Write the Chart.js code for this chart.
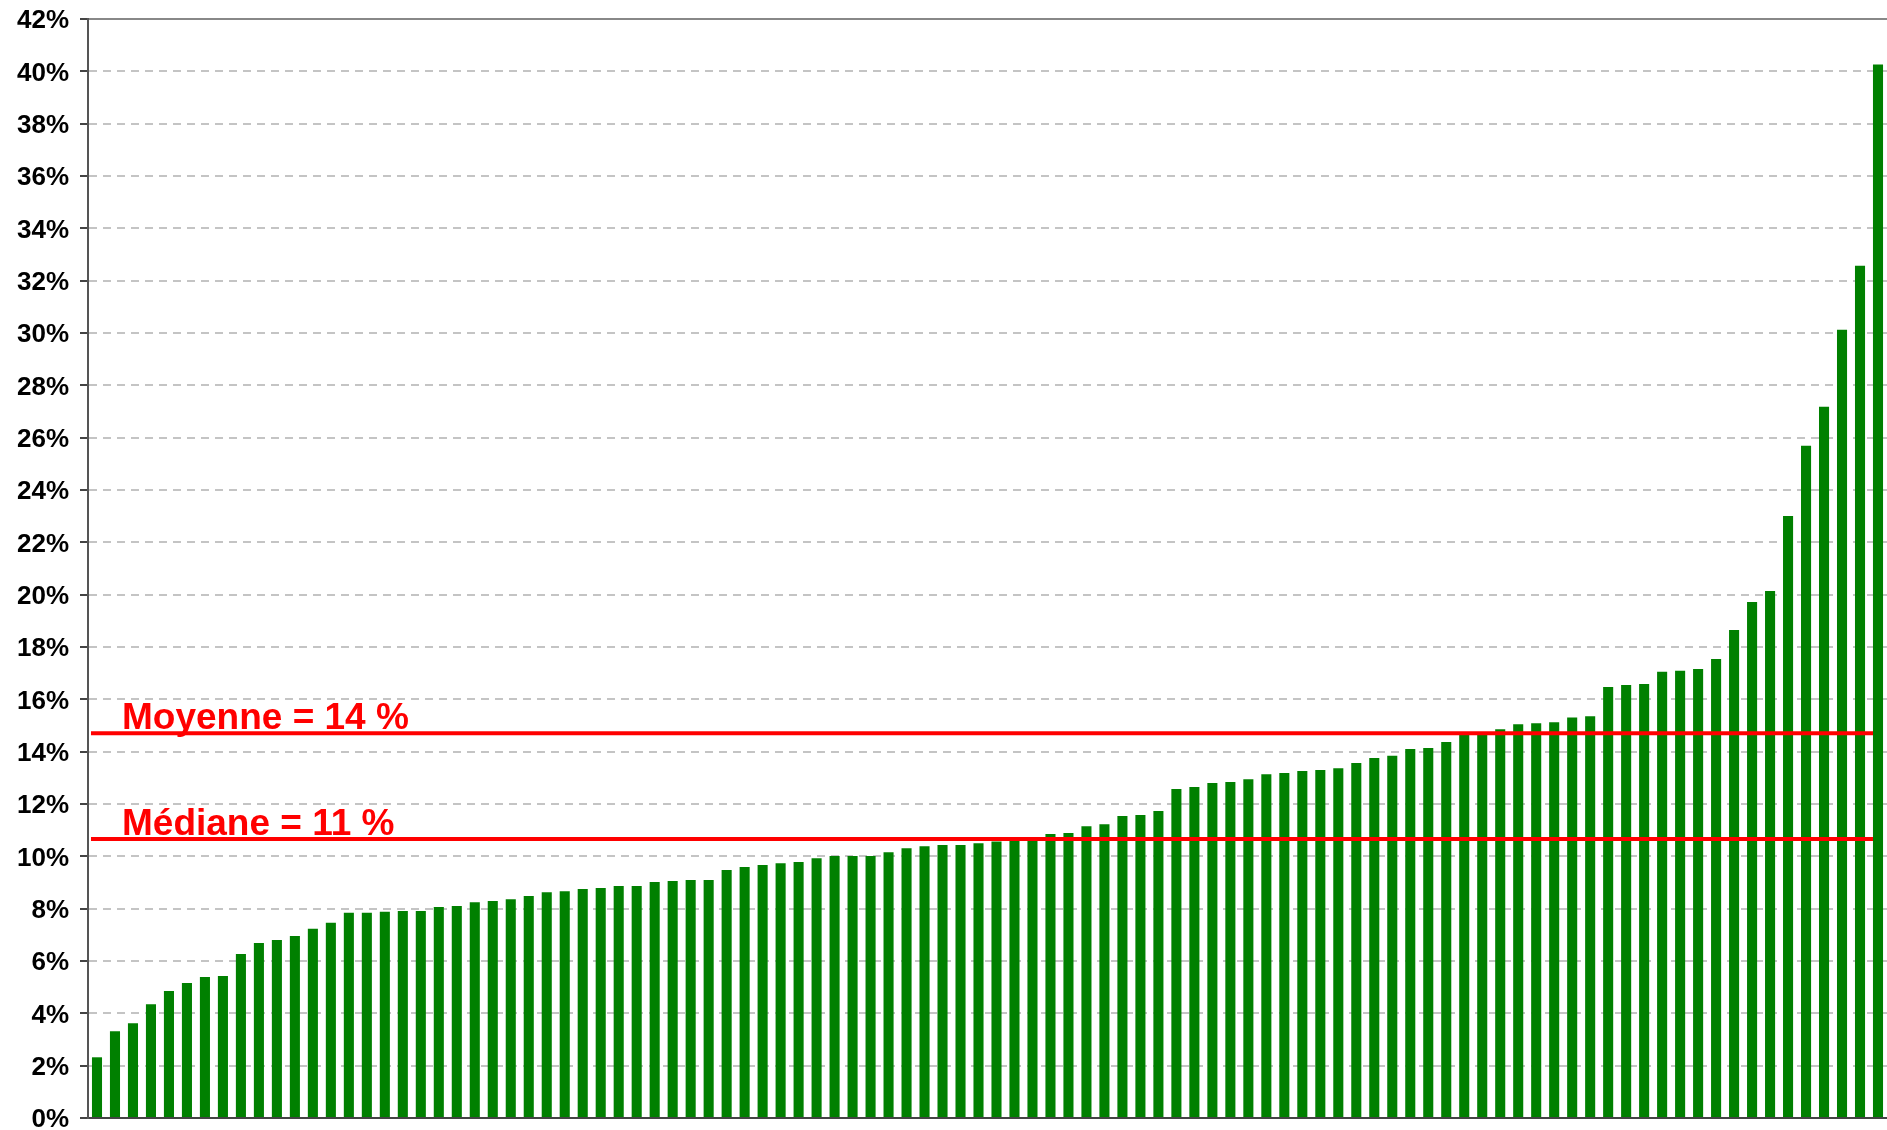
<!DOCTYPE html>
<html>
<head>
<meta charset="utf-8">
<script src="https://cdn.jsdelivr.net/npm/chart.js@4/dist/chart.umd.min.js"></script>
<style>
  html, body { margin: 0; padding: 0; background: #fff; }
  #wrap { width: 1887px; height: 1130px; position: relative; }
</style>
</head>
<body>
<div id="wrap"><canvas id="rateChart"></canvas></div>
<script>
    // taux par entité, triés du plus bas au plus haut (en %)
    const values = [
      2.32, 3.32, 3.62, 4.35, 4.85, 5.16, 5.39, 5.43, 6.27, 6.69,
      6.80, 6.96, 7.23, 7.46, 7.84, 7.84, 7.88, 7.91, 7.91, 8.06,
      8.10, 8.25, 8.29, 8.36, 8.48, 8.63, 8.67, 8.75, 8.79, 8.87,
      8.87, 9.02, 9.06, 9.10, 9.10, 9.48, 9.59, 9.67, 9.74, 9.78,
      9.93, 10.01, 10.01, 10.01, 10.16, 10.31, 10.39, 10.43, 10.43, 10.50,
      10.57, 10.64, 10.65, 10.85, 10.89, 11.15, 11.23, 11.54, 11.58, 11.73,
      12.57, 12.65, 12.80, 12.84, 12.95, 13.14, 13.18, 13.26, 13.30, 13.37,
      13.57, 13.76, 13.84, 14.10, 14.14, 14.37, 14.66, 14.70, 14.86, 15.05,
      15.09, 15.12, 15.31, 15.35, 16.47, 16.55, 16.59, 17.05, 17.09, 17.16,
      17.54, 18.65, 19.72, 20.14, 23.01, 25.69, 27.18, 30.12, 32.57, 40.26
    ];
    const categories = values.map((_, i) => String(i + 1));

    const yMin = 0;
    const yMax = 42;
    const yStep = 2;

    // lignes de référence
    const refValues = [14.7, 10.66];
    const refLabels = ['Moyenne = 14 %', 'Médiane = 11 %'];

    const FONT = '"Liberation Sans", Arial, Helvetica, sans-serif';

    const refLines = {
      id: 'refLines',
      afterDatasetsDraw(chart) {
        const { ctx, scales: { x, y } } = chart;
        const x0 = x.getPixelForValue(0) - 6;
        const x1 = x.getPixelForValue(values.length - 1) - 5;
        ctx.save();
        refValues.forEach((v, i) => {
          const py = y.getPixelForValue(v);
          ctx.strokeStyle = '#ff0000';
          ctx.lineWidth = 4;
          ctx.beginPath();
          ctx.moveTo(x0, py);
          ctx.lineTo(x1, py);
          ctx.stroke();

          ctx.fillStyle = '#ff0000';
          ctx.font = 'bold 37px ' + FONT;
          ctx.textAlign = 'left';
          ctx.textBaseline = 'alphabetic';
          ctx.fillText(refLabels[i], x0 + 31, py - 4);
        });
        ctx.restore();
      }
    };

    const isTop = c => c.type === 'tick' && c.tick && c.tick.value === yMax;

    const ctx = document.getElementById('rateChart').getContext('2d');
    const chart = new Chart(ctx, {
      type: 'bar',
      data: {
        labels: categories,
        datasets: [
          {
            data: values,
            backgroundColor: '#008000',
            borderWidth: 0,
            barPercentage: 0.56,
            categoryPercentage: 1.0
          }
        ]
      },
      options: {
        responsive: true,
        maintainAspectRatio: false,
        animation: false,
        layout: { padding: { top: 19, bottom: 12, left: 0, right: 0 } },
        scales: {
          x: {
            afterFit: s => { s.height = 0; },
            ticks: { display: false },
            grid: { display: false, drawTicks: false },
            border: { display: true, color: '#444', width: 2 }
          },
          y: {
            min: yMin,
            max: yMax,
            afterFit: s => {
              s.width = 88;
              s.paddingTop = 0;
              s.paddingBottom = 0;
            },
            ticks: {
              stepSize: yStep,
              padding: 11,
              labelOffset: 2,
              color: '#000',
              font: { family: FONT, size: 26, weight: 'bold' },
              callback: v => v + '%'
            },
            grid: {
              color: c => isTop(c) ? '#888' : '#c4c4c4',
              lineWidth: 2,
              tickLength: 8,
              tickColor: '#444',
              tickWidth: 2,
              tickBorderDash: []
            },
            border: {
              display: true,
              color: '#555',
              width: 2,
              dash: c => (c.type === 'tick' && !isTop(c)) ? [8, 6] : []
            }
          }
        },
        plugins: {
          legend: { display: false },
          tooltip: { enabled: false }
        }
      },
      plugins: [refLines]
    });
</script>
</body>
</html>
